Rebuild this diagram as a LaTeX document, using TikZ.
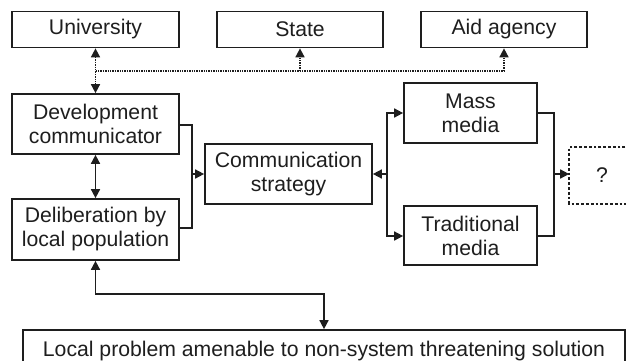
\documentclass[tikz,border=0pt]{standalone}
\usepackage{fontspec}
\setmainfont{Liberation Sans}
\usetikzlibrary{arrows.meta}
\definecolor{ink}{HTML}{1E1E1E}
\begin{document}
\begin{tikzpicture}[x=1pt,y=-1pt,
  box/.style={draw=ink,line width=1.7pt,rectangle,inner sep=0pt,align=center,
    text=ink,font=\fontsize{21.2}{24}\selectfont},
  link/.style={draw=ink,line width=1.6pt},
  dots/.style={draw=ink,line width=1.6pt,dash pattern=on 1.4pt off 1pt},
  tip/.style={-{Triangle[length=9pt,width=9pt]}},
  tips/.style={{Triangle[length=9pt,width=9pt]}-{Triangle[length=9pt,width=9pt]}}]
\clip (0,0) rectangle (626,361);
\fill[white] (0,0) rectangle (626,361);

% top row of institutions
\node[box,minimum width=167pt,minimum height=36pt] (uni)   at (95.5,29.5) {University};
\node[box,minimum width=166pt,minimum height=36pt] (state) at (300,29.5)  {State};
\node[box,minimum width=166pt,minimum height=36pt] (aid)   at (504,29.5)  {Aid agency};

% left column
\node[box,minimum width=167pt,minimum height=60pt] (dev)   at (95.5,124)   {Development\\communicator};
\node[box,minimum width=167pt,minimum height=61pt] (delib) at (95.5,229.5) {Deliberation by\\local population};

% strategy and media
\node[box,minimum width=167pt,minimum height=60pt] (comm)  at (288.5,174)  {Communication\\strategy};
\node[box,minimum width=133pt,minimum height=60pt] (mass)  at (470.5,113)  {Mass\\media};
\node[box,minimum width=133pt,minimum height=59pt] (trad)  at (470.5,235.5) {Traditional\\media};

% open outcome box
\node[box,draw=none,minimum width=64pt,minimum height=55pt] (q) at (602,175.5) {?};
\draw[ink,line width=1.5pt,dash pattern=on 2.8pt off 2pt]
  (q.north east) -- (q.north west) -- (q.south west) -- (q.south east);

% bottom problem box
\node[box,minimum width=602pt,minimum height=42pt] (prob) at (324,351)
  {Local problem amenable to non-system threatening solution};

% dotted links to institutions
\coordinate (jl) at (95.5,71);
\coordinate (jr) at (504,71);
\draw[dots,tips] (uni.south) -- (dev.north);
\draw[dots] (jl) -- (jr);
\draw[dots,tip] (jr) -- (aid.south);
\draw[dots,tip] (state.south |- jl) -- (state.south);

% communicator and population
\draw[link,tips] (dev.south) -- (delib.south |- delib.north);

% bracket into strategy
\coordinate (bl) at (192,174);
\draw[link] (dev.east |- 0,125) -| (bl) |- (delib.east |- 0,228);
\draw[link,tip] (bl) -- (comm.west);

% strategy to media
\coordinate (bm) at (387,174);
\draw[link,tip] (bm) -- (comm.east);
\draw[link,tip] (bm) |- (mass.west);
\draw[link,tip] (bm) |- (trad.west |- 0,236);

% media to outcome
\coordinate (br) at (554,174);
\draw[link] (mass.east) -| (br) |- (trad.east |- 0,236);
\draw[link,tip] (br) -- (q.west |- br);

% population and problem
\coordinate (lp) at (95.5,294);
\draw[link,tips] (delib.south) -- (lp) -| (prob.north);
\end{tikzpicture}
\end{document}
